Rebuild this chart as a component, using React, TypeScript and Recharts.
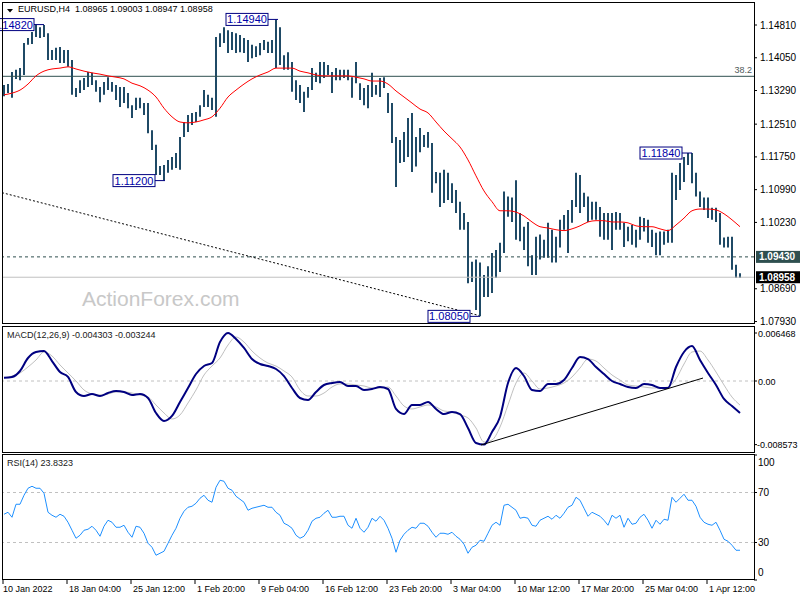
import React from 'react';
import { ComposedChart, Bar, Line, XAxis, YAxis, ReferenceLine, ReferenceDot } from 'recharts';

const FONT = '"Liberation Sans", Arial, Helvetica, sans-serif';

// ---- price bars (2 x H4 bars per slot) ----
const barHigh = [
  1.1342, 1.1344, 1.1372, 1.1377, 1.1381, 1.1439, 1.1451, 1.1465, 1.1482, 1.1476,
  1.1481, 1.1462, 1.1423, 1.1428, 1.1430, 1.1423, 1.1423, 1.1400, 1.1335, 1.1353,
  1.1358, 1.1372, 1.1370, 1.1353, 1.1337, 1.1349, 1.1360, 1.1349, 1.1342, 1.1337,
  1.1337, 1.1323, 1.1295, 1.1312, 1.1312, 1.1300, 1.1300, 1.1237, 1.1203, 1.1154,
  1.1156, 1.1168, 1.1175, 1.1184, 1.1221, 1.1256, 1.1272, 1.1277, 1.1279, 1.1295,
  1.1330, 1.1319, 1.1312, 1.1453, 1.1462, 1.1476, 1.1469, 1.1465, 1.1462, 1.1458,
  1.1451, 1.1446, 1.1435, 1.1432, 1.1439, 1.1446, 1.1442, 1.1446, 1.1494, 1.1476,
  1.1411, 1.1418, 1.1395, 1.1353, 1.1342, 1.1326, 1.1337, 1.1381, 1.1370, 1.1395,
  1.1395, 1.1388, 1.1372, 1.1381, 1.1377, 1.1377, 1.1377, 1.1360, 1.1395, 1.1346,
  1.1335, 1.1342, 1.1370, 1.1342, 1.1358, 1.1360, 1.1323, 1.1300, 1.1221, 1.1214,
  1.1233, 1.1265, 1.1277, 1.1221, 1.1242, 1.1226, 1.1233, 1.1207, 1.1140, 1.1138,
  1.1145, 1.1138, 1.1114, 1.1098, 1.1071, 1.1045, 1.1024, 1.0932, 1.0937, 1.0930,
  1.0901, 1.0921, 1.0952, 1.0959, 1.0976, 1.1095, 1.1083, 1.1081, 1.1121, 1.1045,
  1.1013, 1.1024, 1.0947, 1.0990, 1.0995, 1.0983, 1.1022, 1.1006, 1.0990, 1.1029,
  1.1040, 1.1052, 1.1075, 1.1138, 1.1133, 1.1092, 1.1083, 1.1071, 1.1071, 1.1059,
  1.1045, 1.1045, 1.1045, 1.1047, 1.1045, 1.1022, 1.1013, 1.1017, 1.1006, 1.1036,
  1.1033, 1.1029, 1.1006, 1.0999, 1.1002, 1.1002, 1.1006, 1.1138, 1.1133, 1.1161,
  1.1175, 1.1184, 1.1184, 1.1138, 1.1095, 1.1081, 1.1081, 1.1057, 1.1057, 1.1045,
  1.0988, 1.0990, 1.0990, 1.0925, 1.0905,
];
const barLow = [
  1.1316, 1.1323, 1.1312, 1.1356, 1.1353, 1.1365, 1.1435, 1.1437, 1.1453, 1.1451,
  1.1453, 1.1400, 1.1400, 1.1400, 1.1393, 1.1393, 1.1384, 1.1319, 1.1314, 1.1323,
  1.1330, 1.1337, 1.1342, 1.1326, 1.1302, 1.1319, 1.1330, 1.1326, 1.1307, 1.1291,
  1.1300, 1.1288, 1.1265, 1.1284, 1.1288, 1.1272, 1.1230, 1.1191, 1.1133, 1.1133,
  1.1120, 1.1138, 1.1145, 1.1149, 1.1145, 1.1221, 1.1233, 1.1249, 1.1256, 1.1268,
  1.1291, 1.1291, 1.1284, 1.1268, 1.1430, 1.1439, 1.1416, 1.1423, 1.1416, 1.1418,
  1.1416, 1.1395, 1.1404, 1.1407, 1.1411, 1.1423, 1.1416, 1.1416, 1.1381, 1.1388,
  1.1377, 1.1377, 1.1326, 1.1307, 1.1300, 1.1279, 1.1312, 1.1330, 1.1349, 1.1346,
  1.1358, 1.1365, 1.1323, 1.1353, 1.1353, 1.1358, 1.1353, 1.1312, 1.1346, 1.1307,
  1.1295, 1.1288, 1.1314, 1.1319, 1.1314, 1.1335, 1.1277, 1.1207, 1.1105, 1.1161,
  1.1163, 1.1175, 1.1140, 1.1153, 1.1186, 1.1198, 1.1196, 1.1092, 1.1114, 1.1059,
  1.1068, 1.1075, 1.1068, 1.1045, 1.1006, 1.1006, 1.0882, 1.0885, 1.0820, 1.0805,
  1.0850, 1.0850, 1.0859, 1.0894, 1.0908, 1.0952, 1.1036, 1.1024, 1.0983, 1.0979,
  1.0959, 1.0921, 1.0901, 1.0901, 1.0937, 1.0941, 1.0941, 1.0930, 1.0930, 1.0965,
  1.1006, 1.0952, 1.1022, 1.1059, 1.1045, 1.1059, 1.1024, 1.1029, 1.1029, 1.0990,
  1.0983, 1.0983, 1.0959, 1.1006, 1.1006, 1.0966, 1.0979, 1.0971, 1.0965, 1.0983,
  1.1002, 1.0976, 1.0966, 1.0947, 1.0947, 1.0971, 1.0976, 1.0976, 1.1075, 1.1098,
  1.1117, 1.1156, 1.1114, 1.1083, 1.1059, 1.1052, 1.1033, 1.1029, 1.1024, 1.0971,
  1.0965, 1.0965, 1.0913, 1.0894, 1.0894,
];
// moving average, one value every 2 slots
const maLine = [
  1.1319, 1.1323, 1.1330, 1.1344, 1.1363, 1.1374, 1.1379, 1.1381, 1.1384, 1.1379,
  1.1374, 1.1370, 1.1367, 1.1363, 1.1360, 1.1356, 1.1346, 1.1340, 1.1330, 1.1314,
  1.1288, 1.1268, 1.1256, 1.1254, 1.1256, 1.1261, 1.1268, 1.1288, 1.1314, 1.1330,
  1.1344, 1.1356, 1.1365, 1.1372, 1.1381, 1.1381, 1.1381, 1.1374, 1.1370, 1.1365,
  1.1363, 1.1363, 1.1363, 1.1363, 1.1360, 1.1356, 1.1351, 1.1351, 1.1344, 1.1328,
  1.1314, 1.1300, 1.1286, 1.1277, 1.1256, 1.1235, 1.1217, 1.1198, 1.1168, 1.1131,
  1.1096, 1.1071, 1.1050, 1.1050, 1.1047, 1.1038, 1.1024, 1.1013, 1.1010, 1.1006,
  1.1004, 1.1008, 1.1015, 1.1024, 1.1027, 1.1027, 1.1024, 1.1024, 1.1022, 1.1015,
  1.1013, 1.1013, 1.1008, 1.1004, 1.1017, 1.1033, 1.1050, 1.1054, 1.1054, 1.1052,
  1.1043, 1.1029, 1.1013,
];
// MACD(12,26,9), one value every 2 slots
const macdLine = [
  0.00044, 0.00054, 0.00135, 0.00310, 0.00391, 0.00405, 0.00269, 0.00121, 0.00054, -0.00148,
  -0.00202, -0.00175, -0.00202, -0.00162, -0.00135, -0.00148, -0.00189, -0.00175, -0.00229, -0.00431,
  -0.00539, -0.00471, -0.00283, -0.00094, 0.00094, 0.00202, 0.00242, 0.00525, 0.00647, 0.00566,
  0.00445, 0.00296, 0.00229, 0.00202, 0.00162, 0.00067, -0.00094, -0.00229, -0.00256, -0.00148,
  -0.00054, -0.00027, -0.00013, -0.00067, -0.00067, -0.00121, -0.00108, -0.00081, -0.00108, -0.00377,
  -0.00445, -0.00323, -0.00323, -0.00283, -0.00377, -0.00445, -0.00418, -0.00445, -0.00633, -0.00835,
  -0.00857, -0.00687, -0.00485, -0.00027, 0.00175, 0.00067, -0.00121, -0.00135, -0.00040, -0.00040,
  0.00013, 0.00175, 0.00323, 0.00296, 0.00189, 0.00094, 0.0, -0.00040, -0.00081, -0.00094,
  -0.00040, -0.00054, -0.00094, -0.00094, 0.00189, 0.00391, 0.00471, 0.00283, 0.00108, -0.00054,
  -0.00242, -0.00337, -0.00430,
];
const signalLine = [
  0.00040, 0.00067, 0.00108, 0.00189, 0.00283, 0.00391, 0.00337, 0.00216, 0.00108, 0.0,
  -0.00121, -0.00175, -0.00189, -0.00175, -0.00148, -0.00148, -0.00162, -0.00189, -0.00216, -0.00323,
  -0.00431, -0.00512, -0.00458, -0.00296, -0.00121, 0.00081, 0.00202, 0.00310, 0.00485, 0.00593,
  0.00525, 0.00404, 0.00310, 0.00242, 0.00202, 0.00135, 0.00054, -0.00121, -0.00202, -0.00202,
  -0.00162, -0.00081, -0.00040, -0.00040, -0.00054, -0.00067, -0.00094, -0.00094, -0.00081, -0.00202,
  -0.00337, -0.00377, -0.00350, -0.00323, -0.00350, -0.00404, -0.00418, -0.00458, -0.00498, -0.00633,
  -0.00822, -0.00795, -0.00620, -0.00323, -0.00027, 0.00108, 0.0, -0.00108, -0.00094, -0.00067,
  -0.00027, 0.00054, 0.00175, 0.00296, 0.00269, 0.00175, 0.00081, 0.00013, -0.00054, -0.00067,
  -0.00081, -0.00094, -0.00094, -0.00081, 0.00027, 0.00229, 0.00391, 0.00404, 0.00283, 0.00121,
  -0.00054, -0.00216, -0.00324,
];
// RSI(14), one value per slot
const rsiLine = [
  52.6, 54.2, 50.2, 60.6, 60.6, 67.8, 73.4, 75.0, 73.4, 73.4,
  69.4, 54.2, 51.8, 50.2, 52.6, 51.0, 46.2, 39.8, 33.4, 35.8,
  39.8, 40.6, 43.0, 39.8, 35.0, 43.0, 47.8, 46.2, 42.2, 42.2,
  43.8, 38.2, 34.2, 43.0, 42.2, 37.4, 29.4, 26.2, 19.8, 21.4,
  23.0, 29.4, 35.8, 41.4, 49.4, 55.0, 58.2, 59.0, 61.4, 65.4,
  67.8, 63.8, 62.2, 74.2, 79.8, 79.0, 73.4, 71.8, 67.0, 64.6,
  62.2, 55.8, 57.4, 58.2, 59.0, 59.8, 58.2, 58.2, 54.2, 51.8,
  45.4, 43.8, 41.4, 35.8, 33.4, 35.0, 39.8, 47.0, 49.4, 50.2,
  53.4, 55.8, 50.2, 50.2, 51.0, 51.0, 43.8, 41.4, 49.4, 41.4,
  38.2, 42.2, 49.4, 47.0, 51.0, 47.8, 41.4, 33.4, 22.2, 31.8,
  36.6, 39.8, 42.2, 41.4, 45.4, 45.4, 43.0, 38.2, 34.2, 37.4,
  37.4, 36.6, 38.2, 35.0, 32.6, 28.6, 21.4, 26.2, 27.8, 31.8,
  31.0, 37.4, 43.8, 46.2, 43.8, 59.8, 60.6, 58.2, 55.8, 49.4,
  50.2, 49.4, 43.8, 43.0, 47.8, 49.4, 51.0, 48.6, 51.8, 49.4,
  53.4, 58.2, 59.8, 66.2, 63.8, 57.4, 51.0, 54.2, 52.6, 51.0,
  47.8, 43.8, 51.8, 49.4, 51.8, 42.2, 49.4, 44.6, 45.4, 50.2,
  52.6, 47.8, 41.4, 47.8, 44.6, 48.6, 47.8, 66.2, 62.2, 65.4,
  68.6, 63.8, 63.8, 59.0, 50.2, 46.2, 44.6, 43.8, 46.2, 39.8,
  32.6, 31.0, 27.8, 23.8, 23.8,
];

const timeLabels = [
  '10 Jan 2022', '18 Jan 04:00', '25 Jan 12:00', '1 Feb 20:00', '9 Feb 04:00', '16 Feb 12:00',
  '23 Feb 20:00', '3 Mar 04:00', '10 Mar 12:00', '17 Mar 20:00', '25 Mar 04:00', '1 Apr 12:00',
];
const priceTicks = [1.1481, 1.1405, 1.1329, 1.1251, 1.1175, 1.1099, 1.1023, 1.0869, 1.0793];
const macdTicks = [0.006468, 0, -0.008573];
const rsiTicks = [100, 70, 30, 0];

const fibLevel = 1.1362;
const fibLabel = '38.2';
const supportLevel = 1.0943;
const lastPrice = 1.08958;

const extremeLabels = ['1.14820', '1.14940', '1.11200', '1.08050', '1.11840'];
const extremeSlots = [10, 68.5, 40.25, 119, 172];
const extremePrices = [1.1482, 1.1494, 1.112, 1.0805, 1.1184];

const priceTrend = [{ x: -0.5, y: 1.1092 }, { x: 118.75, y: 1.0807 }];
const macdTrend = [{ x: 119.25, y: -0.00862 }, { x: 174.75, y: 0.0004 }];

// ---- derived tables ----
const priceData = barHigh.map((h, k) => ({
  k,
  range: [barLow[k], h],
  ma: k % 2 === 0 ? maLine[k / 2] : undefined,
}));
const macdData = macdLine.map((m, j) => ({ k: j * 2, macd: m, signal: signalLine[j] }));
const rsiData = rsiLine.map((r, k) => ({ k, rsi: r }));
const timeTicks = timeLabels.map((_, n) => n * 16 - 0.25);

const X_DOMAIN: [number, number] = [-0.5, 187.5];
const BAR_COLOR = '#1f4a66';

const PriceTick = (props: any) => {
  const { x, y, payload } = props;
  const v: number = payload.value;
  const tagColor = v === supportLevel ? '#2f4f4f' : v === lastPrice ? '#000000' : null;
  if (tagColor) {
    return (
      <g>
        <rect x={x + 2} y={y - 6} width={44} height={12} fill={tagColor} />
        <text x={x + 5} y={y + 3.5} fill="#fff" fontSize={10} fontWeight="bold" fontFamily={FONT}>
          {v.toFixed(5)}
        </text>
      </g>
    );
  }
  return (
    <g>
      <line x1={x} x2={x + 3} y1={y} y2={y} stroke="#000" />
      <text x={x + 6} y={y + 3.5} fill="#000" fontSize={10} fontFamily={FONT}>
        {v.toFixed(5)}
      </text>
    </g>
  );
};

const MacdTick = (props: any) => {
  const { x, y, payload } = props;
  const v: number = payload.value;
  return (
    <g>
      <line x1={x} x2={x + 3} y1={y} y2={y} stroke="#000" />
      <text x={x + (v < 0 ? 3 : 4)} y={y + 3.5} fill="#000" fontSize={9} fontFamily={FONT}>
        {v === 0 ? '0.00' : v.toFixed(6)}
      </text>
    </g>
  );
};

const RsiTick = (props: any) => {
  const { x, y, payload } = props;
  const v: number = payload.value;
  const shift = v === 100 ? 7 : v === 0 ? -7.5 : 0;
  return (
    <g>
      <line x1={x} x2={x + 3} y1={y} y2={y} stroke="#000" />
      <text x={x + 4} y={y + shift + 3.5} fill="#000" fontSize={10} fontFamily={FONT}>
        {String(v)}
      </text>
    </g>
  );
};

const TimeTick = (props: any) => {
  const { x, y, index } = props;
  return (
    <g>
      <line x1={x} x2={x} y1={y} y2={y + 4} stroke="#000" />
      <text x={index === 0 ? x : x + 2} y={y + 12} fill="#000" fontSize={9} fontFamily={FONT}>
        {timeLabels[index]}
      </text>
    </g>
  );
};

const ExtremeTag = (props: any) => {
  const { cx, cy, text } = props;
  const gap = 10;
  const w = 42;
  const h = 12;
  const right = cx - gap;
  return (
    <g>
      <line x1={right} x2={cx} y1={cy} y2={cy} stroke="#000080" />
      <rect x={right - w} y={cy - h / 2} width={w} height={h} fill="#fff" stroke="#000080" />
      <text x={right - w / 2} y={cy + 4} textAnchor="middle" fill="#0000a8" fontSize={11} fontFamily={FONT}>
        {text}
      </text>
    </g>
  );
};

const FibText = (props: any) => {
  const { cx, cy } = props;
  return (
    <text x={cx - 2} y={cy - 3} textAnchor="end" fill="#505a5a" fontSize={9} fontFamily={FONT}>
      {fibLabel}
    </text>
  );
};

const frame = (top: number, height: number): React.CSSProperties => ({
  position: 'absolute',
  left: 2,
  top,
  width: 753,
  height,
  border: '1px solid #000',
  boxSizing: 'border-box',
  pointerEvents: 'none',
});

export default function App() {
  return (
    <div
      style={{
        position: 'absolute',
        left: 0,
        top: 0,
        width: 800,
        height: 600,
        background: '#fff',
        overflow: 'hidden',
        fontFamily: FONT,
      }}
    >
      <div
        style={{
          position: 'absolute',
          left: 82,
          top: 288,
          fontSize: 21,
          lineHeight: '21px',
          color: '#c8c8c8',
          whiteSpace: 'nowrap',
        }}
      >
        ActionForex.com
      </div>

      {/* main price panel */}
      <div style={{ position: 'absolute', left: 0, top: 0 }}>
        <ComposedChart width={800} height={330} data={priceData} margin={{ top: 2, right: 0, bottom: 7, left: 2 }}>
          <XAxis dataKey="k" type="number" domain={X_DOMAIN} hide allowDataOverflow />
          <YAxis
            orientation="right"
            width={46}
            domain={[1.07896, 1.15344]}
            allowDataOverflow
            ticks={[...priceTicks, supportLevel, lastPrice]}
            interval={0}
            axisLine={false}
            tickLine={false}
            tickSize={0}
            tickMargin={0}
            tick={<PriceTick />}
          />
          <ReferenceLine y={fibLevel} stroke="#2f4f4f" strokeWidth={1} />
          <ReferenceLine y={supportLevel} stroke="#2f4f4f" strokeDasharray="3 3" />
          <ReferenceLine y={lastPrice} stroke="#c0c0c0" />
          <ReferenceLine segment={priceTrend} stroke="#000" strokeDasharray="2 2" ifOverflow="visible" />
          <Bar dataKey="range" barSize={2} fill={BAR_COLOR} isAnimationActive={false} />
          <Line
            dataKey="ma"
            type="monotone"
            stroke="#ff0000"
            strokeWidth={1}
            dot={false}
            connectNulls
            isAnimationActive={false}
          />
          <ReferenceDot x={187.5} y={fibLevel} r={0} ifOverflow="visible" shape={<FibText />} />
          {extremeLabels.map((t, i) => (
            <ReferenceDot
              key={t}
              x={extremeSlots[i]}
              y={extremePrices[i]}
              r={0}
              ifOverflow={i === 0 ? 'hidden' : 'visible'}
              shape={<ExtremeTag text={t} />}
            />
          ))}
        </ComposedChart>
      </div>

      {/* MACD panel */}
      <div style={{ position: 'absolute', left: 0, top: 320 }}>
        <ComposedChart width={800} height={140} data={macdData} margin={{ top: 7, right: 0, bottom: 8, left: 2 }}>
          <XAxis dataKey="k" type="number" domain={X_DOMAIN} hide allowDataOverflow />
          <YAxis
            orientation="right"
            width={46}
            domain={[-0.009567, 0.007277]}
            allowDataOverflow
            ticks={macdTicks}
            interval={0}
            axisLine={false}
            tickLine={false}
            tickSize={0}
            tickMargin={0}
            tick={<MacdTick />}
          />
          <ReferenceLine y={0} stroke="#c0c0c0" strokeDasharray="3 3" />
          <Line dataKey="signal" type="monotone" stroke="#c0c0c0" strokeWidth={1} dot={false} isAnimationActive={false} />
          <Line dataKey="macd" type="monotone" stroke="#000080" strokeWidth={2} dot={false} isAnimationActive={false} />
          <ReferenceLine segment={macdTrend} stroke="#000" strokeWidth={1} ifOverflow="visible" />
        </ComposedChart>
      </div>

      {/* RSI panel */}
      <div style={{ position: 'absolute', left: 0, top: 450 }}>
        <ComposedChart width={800} height={150} data={rsiData} margin={{ top: 5, right: 0, bottom: 0, left: 2 }}>
          <XAxis
            dataKey="k"
            type="number"
            domain={X_DOMAIN}
            allowDataOverflow
            ticks={timeTicks}
            interval={0}
            height={20}
            axisLine={false}
            tickLine={false}
            tickSize={0}
            tickMargin={0}
            tick={<TimeTick />}
          />
          <YAxis
            orientation="right"
            width={46}
            domain={[0, 100]}
            allowDataOverflow
            ticks={rsiTicks}
            interval={0}
            axisLine={false}
            tickLine={false}
            tickSize={0}
            tickMargin={0}
            tick={<RsiTick />}
          />
          <ReferenceLine y={70} stroke="#c0c0c0" strokeDasharray="3 3" />
          <ReferenceLine y={30} stroke="#c0c0c0" strokeDasharray="3 3" />
          <Line dataKey="rsi" type="linear" stroke="#1e90ff" strokeWidth={1} dot={false} isAnimationActive={false} />
        </ComposedChart>
      </div>

      <div style={frame(2, 322)} />
      <div style={frame(326, 127)} />
      <div style={frame(454, 126)} />

      {/* header texts */}
      <svg style={{ position: 'absolute', left: 0, top: 0 }} width={20} height={20}>
        <polygon points="7,9 13,9 10,12.5" fill="#000" />
      </svg>
      <div
        style={{
          position: 'absolute',
          left: 18,
          top: 4,
          fontSize: 9,
          lineHeight: '11px',
          color: '#000',
          whiteSpace: 'pre',
        }}
      >
        {'EURUSD,H4  1.08965 1.09003 1.08947 1.08958'}
      </div>
      <div
        style={{
          position: 'absolute',
          left: 7,
          top: 330,
          fontSize: 9,
          lineHeight: '11px',
          color: '#202020',
          whiteSpace: 'pre',
        }}
      >
        {'MACD(12,26,9) -0.004303 -0.003244'}
      </div>
      <div
        style={{
          position: 'absolute',
          left: 7,
          top: 458,
          fontSize: 9,
          lineHeight: '11px',
          color: '#202020',
          whiteSpace: 'pre',
        }}
      >
        {'RSI(14) 23.8323'}
      </div>
    </div>
  );
}
